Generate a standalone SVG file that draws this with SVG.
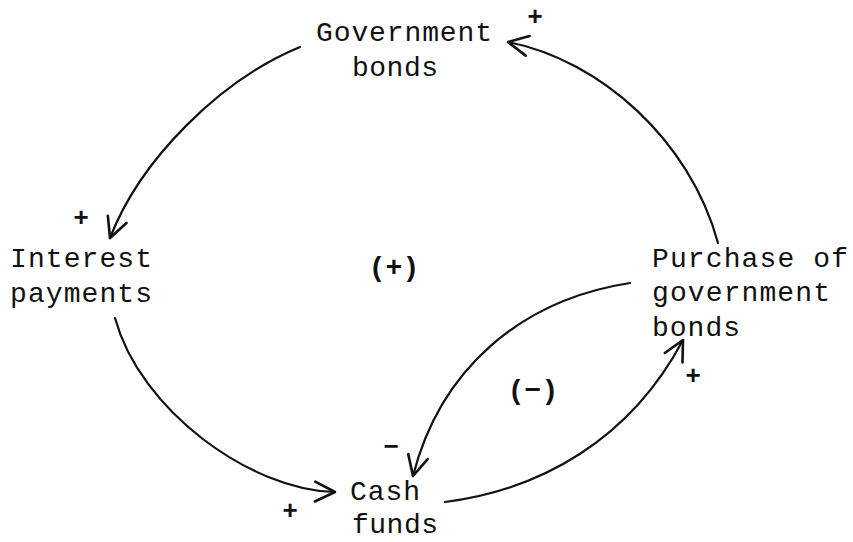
<svg xmlns="http://www.w3.org/2000/svg" width="853" height="542" viewBox="0 0 853 542">
<style>
.t{font-family:"Liberation Mono","DejaVu Sans Mono",monospace;font-size:28px;fill:#111}
.s{font-family:"Liberation Sans",Arial,sans-serif;font-size:26px;font-weight:bold;fill:#111}
.c{fill:none;stroke:#111;stroke-width:2.2;stroke-linecap:round}
</style>
<defs>
<marker id="b" viewBox="0 0 24 24" refX="22" refY="12" markerWidth="24" markerHeight="24" markerUnits="userSpaceOnUse" orient="auto">
<path d="M2,2 L22,12 L2,22" fill="none" stroke="#111" stroke-width="2.6" stroke-linecap="round" stroke-linejoin="round"/>
</marker>
</defs>
<g id="connectors">
<path class="c" d="M300,47 C220,80 140,160 110,238" marker-end="url(#b)"/>
<path class="c" d="M115,318 C140,410 250,490 335,492" marker-end="url(#b)"/>
<path class="c" d="M445,502 C540,490 630,440 683,340" marker-end="url(#b)"/>
<path class="c" d="M630,283 C520,300 440,370 413,476" marker-end="url(#b)"/>
<path class="c" d="M718,243 C690,140 600,60 508,42" marker-end="url(#b)"/>
</g>
<g id="government-bonds">
<text class="t" x="316" y="41" textLength="176">Government</text>
<text class="t" x="352" y="76" textLength="86">bonds</text>
</g>
<g id="interest-payments">
<text class="t" x="10" y="267" textLength="142">Interest</text>
<text class="t" x="10" y="302" textLength="142">payments</text>
</g>
<g id="purchase">
<text class="t" x="652" y="267" textLength="196">Purchase of</text>
<text class="t" x="652" y="301" textLength="178">government</text>
<text class="t" x="652" y="336" textLength="88">bonds</text>
</g>
<g id="cash-funds">
<text class="t" x="350" y="500" textLength="70">Cash</text>
<text class="t" x="352" y="533" textLength="86">funds</text>
</g>
<g id="labels">
<text class="s" x="535" y="25" text-anchor="middle" font-size="20">+</text>
<text class="s" x="81" y="226" text-anchor="middle">+</text>
<text class="s" x="693" y="384" text-anchor="middle">+</text>
<text class="s" x="391" y="455" text-anchor="middle">−</text>
<text class="s" x="290" y="519" text-anchor="middle">+</text>
<text class="t" x="394" y="276" text-anchor="middle" font-weight="bold">(+)</text>
<text class="t" x="533" y="399" text-anchor="middle" font-weight="bold">(−)</text>
</g>
</svg>
